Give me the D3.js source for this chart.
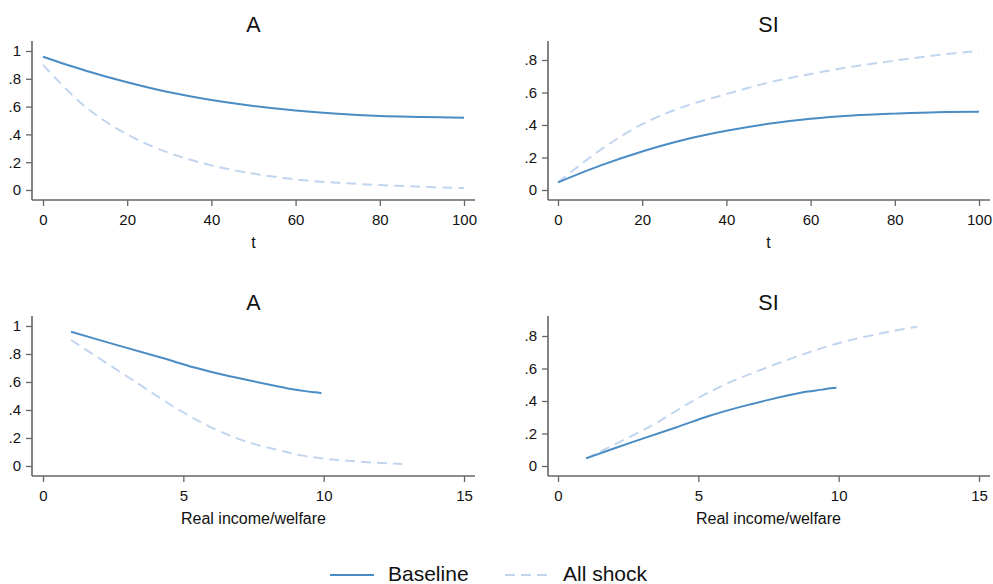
<!DOCTYPE html>
<html>
<head>
<meta charset="utf-8">
<script src="https://cdn.jsdelivr.net/npm/d3@7"></script>
<style>
  html, body { margin: 0; padding: 0; background: #fff; }
  svg { display: block; font-family: "Liberation Sans", Arial, sans-serif; }
</style>
</head>
<body>
<svg id="chart" width="993" height="584"></svg>
<script>
// ---- Data ----
const tValues      = [0, 10, 20, 30, 40, 50, 60, 70, 80, 90, 100];
const aBaseline    = [0.959, 0.860, 0.775, 0.703, 0.648, 0.605, 0.572, 0.548, 0.533, 0.526, 0.520];
const aShock       = [0.900, 0.600, 0.400, 0.266, 0.177, 0.118, 0.076, 0.052, 0.036, 0.023, 0.014];
const siBaseline   = [0.047, 0.150, 0.237, 0.309, 0.364, 0.407, 0.438, 0.458, 0.470, 0.479, 0.481];
const siShock      = [0.047, 0.245, 0.405, 0.514, 0.590, 0.661, 0.714, 0.759, 0.796, 0.830, 0.857];
const welfareBaseline = [1.0, 2.7, 4.2, 5.4, 6.5, 7.5, 8.3, 8.9, 9.4, 9.7, 9.92];
const welfareShock    = [1.0, 3.3, 4.85, 6.1, 7.2, 8.3, 9.2, 10.05, 10.95, 11.9, 12.8];

const seriesNames = ["Baseline", "All shock"];
const panelTitles = ["A", "SI", "A", "SI"];
const xTitles     = ["t", "t", "Real income/welfare", "Real income/welfare"];
const xTicksTime    = [0, 20, 40, 60, 80, 100];
const xTicksWelfare = [0, 5, 10, 15];
const yTicksA  = [0, 0.2, 0.4, 0.6, 0.8, 1];
const yTicksSI = [0, 0.2, 0.4, 0.6, 0.8];

const colors = { base: "#4a8cc4", shock: "#c2d5ef" };

const svg = d3.select("#chart");
const fmt = v => v === 0 ? "0" : (v === 1 ? "1" : String(v).replace(/^0/, ""));

const panels = [
  { col: 0, row: 0, x: tValues, x2: tValues, y1: aBaseline, y2: aShock, xdom: [0, 100], xt: xTicksTime, ydom: [0, 1], yt: yTicksA },
  { col: 1, row: 0, x: tValues, x2: tValues, y1: siBaseline, y2: siShock, xdom: [0, 100], xt: xTicksTime, ydom: [0, 0.8], yt: yTicksSI },
  { col: 0, row: 1, x: welfareBaseline, x2: welfareShock, y1: aBaseline, y2: aShock, xdom: [0, 15], xt: xTicksWelfare, ydom: [0, 1], yt: yTicksA },
  { col: 1, row: 1, x: welfareBaseline, x2: welfareShock, y1: siBaseline, y2: siShock, xdom: [0, 15], xt: xTicksWelfare, ydom: [0, 0.8], yt: yTicksSI }
];

const colX = [{ axis: 32, x0: 43, x1: 464, end: 475 }, { axis: 548, x0: 558, x1: 979, end: 990 }];
const rowY = [
  { top: 41, y0: 190, yTopA: 51, yTopSI: 60, base: 200, title: 32, axTitle: 248 },
  { top: 316, y0: 466, yTopA: 326, yTopSI: 336, base: 476, title: 310, axTitle: 524 }
];

panels.forEach((p, i) => {
  const c = colX[p.col], r = rowY[p.row];
  const x = d3.scaleLinear().domain(p.xdom).range([c.x0, c.x1]);
  const yTopPix = p.ydom[1] === 1 ? r.yTopA : r.yTopSI;
  const y = d3.scaleLinear().domain(p.ydom).range([r.y0, yTopPix]);
  const g = svg.append("g");

  g.append("text").attr("x", (c.x0 + c.x1) / 2).attr("y", r.title)
    .attr("text-anchor", "middle").attr("font-size", 21.5).attr("fill", "#111")
    .text(panelTitles[i]);

  const yAx = g.append("g").attr("transform", `translate(${c.axis},0)`)
    .call(d3.axisLeft(y).tickValues(p.yt).tickFormat(fmt).tickSize(6).tickPadding(5));
  yAx.select(".domain").remove();
  yAx.append("line").attr("x1", 0).attr("x2", 0).attr("y1", r.top).attr("y2", r.base)
    .attr("stroke", "#666").attr("stroke-width", 1.6);
  yAx.selectAll(".tick line").attr("stroke", "#666").attr("stroke-width", 1.3);
  yAx.selectAll(".tick text").attr("font-size", 15).attr("fill", "#111")
    .attr("font-family", "Liberation Sans, Arial, sans-serif");

  const xAx = g.append("g").attr("transform", `translate(0,${r.base})`)
    .call(d3.axisBottom(x).tickValues(p.xt).tickFormat(d3.format("d")).tickSize(6).tickPadding(8));
  xAx.select(".domain").remove();
  xAx.append("line").attr("x1", c.axis).attr("x2", c.end).attr("y1", 0).attr("y2", 0)
    .attr("stroke", "#666").attr("stroke-width", 1.6);
  xAx.selectAll(".tick line").attr("stroke", "#666").attr("stroke-width", 1.3);
  xAx.selectAll(".tick text").attr("font-size", 15).attr("fill", "#111")
    .attr("font-family", "Liberation Sans, Arial, sans-serif");

  g.append("text").attr("x", (c.x0 + c.x1) / 2).attr("y", r.axTitle)
    .attr("text-anchor", "middle").attr("font-size", 16).attr("fill", "#111")
    .text(xTitles[i]);

  const line = d3.line().x(d => x(d[0])).y(d => y(d[1])).curve(d3.curveCatmullRom.alpha(0.5));
  const shockPts = p.x2.map((v, k) => [v, p.y2[k]]);
  const basePts = p.x.map((v, k) => [v, p.y1[k]]);
  g.append("path").attr("d", line(shockPts)).attr("fill", "none")
    .attr("stroke", colors.shock).attr("stroke-width", 2).attr("stroke-dasharray", "10,6");
  g.append("path").attr("d", line(basePts)).attr("fill", "none")
    .attr("stroke", colors.base).attr("stroke-width", 2);
});

const lg = svg.append("g");
lg.append("line").attr("x1", 330).attr("x2", 374).attr("y1", 575).attr("y2", 575)
  .attr("stroke", colors.base).attr("stroke-width", 2);
lg.append("text").attr("x", 388).attr("y", 581).attr("font-size", 21).attr("fill", "#111").text(seriesNames[0]);
lg.append("line").attr("x1", 505).attr("x2", 550).attr("y1", 575).attr("y2", 575)
  .attr("stroke", colors.shock).attr("stroke-width", 2).attr("stroke-dasharray", "10,6");
lg.append("text").attr("x", 563).attr("y", 581).attr("font-size", 21).attr("fill", "#111").text(seriesNames[1]);
</script>
</body>
</html>
